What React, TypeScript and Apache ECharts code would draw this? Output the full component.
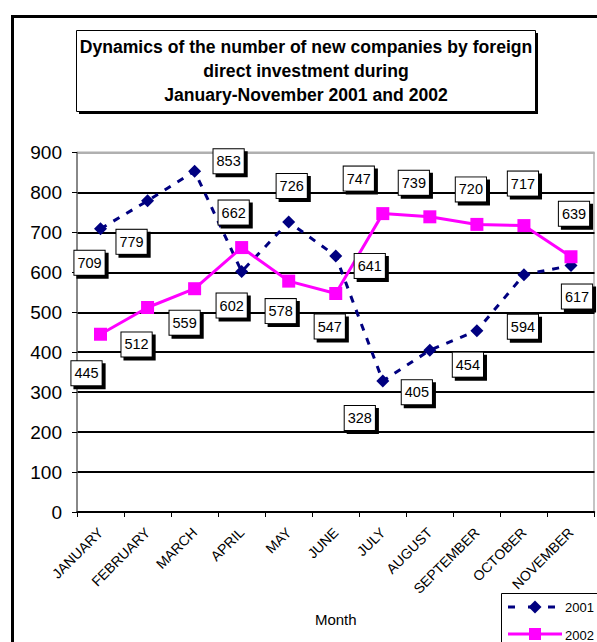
import React, { useEffect, useRef } from "react";
import * as echarts from "echarts";

const months = ["JANUARY", "FEBRUARY", "MARCH", "APRIL", "MAY", "JUNE", "JULY", "AUGUST", "SEPTEMBER", "OCTOBER", "NOVEMBER"];
const values2001 = [709, 779, 853, 602, 726, 641, 328, 405, 454, 594, 617];
const values2002 = [445, 512, 559, 662, 578, 547, 747, 739, 720, 717, 639];
const seriesNames = ["2001", "2002"];
const yTicks = { min: 0, max: 900, interval: 100 };
const titleLines = [
  "Dynamics of the number of new companies by foreign",
  "direct investment during",
  "January-November 2001 and 2002",
];
const labelOffsets2001 = [[-11, 34], [-16, 41], [34, -10], [-10, 34], [3, -36], [34, 10], [-23, 37], [-13, 42], [-9, 34], [-1, 52], [6, 31]];
const labelOffsets2002 = [[-14, 39], [-11, 37], [-10, 34], [-8, -35], [-8, 30], [-6, 33], [-24, -35], [-16, -34], [-6, -35], [-1, -42], [3, -43]];

const FONT = "Arial, 'Liberation Sans', sans-serif";
const NAVY = "#000080";
const MAGENTA = "#ff00ff";

const labelBox = {
  show: true,
  position: "inside",
  formatter: "{c}",
  fontSize: 14.5,
  fontFamily: FONT,
  color: "#000",
  backgroundColor: "#fff",
  borderColor: "#000",
  borderWidth: 1,
  padding: [5, 3, 4, 3],
  shadowColor: "#000",
  shadowOffsetX: 3,
  shadowOffsetY: 3,
  shadowBlur: 0,
};

export default function App() {
  const ref = useRef<HTMLDivElement>(null);
  useEffect(() => {
    const chart = echarts.init(ref.current!, null, { renderer: "svg" });
    const gridLeft = 77;
    const gridTop = 152.5;
    const gridRight = 2.5;
    const gridBottom = 130;
    const splitColors = Array.from({ length: 10 }, (_, i) => (i === 9 ? "#b0b0b0" : "#000"));
    const lgX = 508;
    const lgY1 = 607;
    const lgY2 = 634;
    chart.setOption({
      animation: false,
      backgroundColor: "#fff",
      textStyle: { fontFamily: FONT },
      grid: { left: gridLeft, top: gridTop, right: gridRight, bottom: gridBottom, containLabel: false },
      xAxis: {
        type: "category",
        data: months,
        boundaryGap: true,
        axisLine: { lineStyle: { color: "#000", width: 1.5 } },
        axisTick: { show: true, length: 5, lineStyle: { color: "#000", width: 1 } },
        axisLabel: {
          rotate: 45,
          interval: 0,
          fontSize: 14,
          color: "#000",
          margin: 18,
          fontFamily: FONT,
        },
        name: "Month",
        nameLocation: "middle",
        nameGap: 100,
        nameTextStyle: { fontSize: 15, color: "#000", fontFamily: FONT },
      },
      yAxis: {
        type: "value",
        min: yTicks.min,
        max: yTicks.max,
        interval: yTicks.interval,
        axisLine: { show: true, lineStyle: { color: "#606060", width: 1.5 } },
        axisTick: { show: true, length: 5, lineStyle: { color: "#000", width: 1 } },
        axisLabel: { fontSize: 19, color: "#000", margin: 15, fontFamily: FONT },
        splitLine: { show: true, lineStyle: { color: splitColors, width: 2 } },
      },
      legend: { show: false },
      graphic: [
        {
          type: "rect",
          shape: { x: 12.5, y: 16.5, width: 800, height: 800 },
          style: { fill: "none", stroke: "#000", lineWidth: 3 },
          silent: true,
          z: 100,
        },
        {
          type: "line",
          shape: { x1: gridLeft, y1: gridTop, x2: 597 - gridRight, y2: gridTop },
          style: { stroke: "#b0b0b0", lineWidth: 2 },
          silent: true,
        },
        {
          type: "line",
          shape: { x1: 597 - gridRight - 0.5, y1: gridTop, x2: 597 - gridRight - 0.5, y2: 642 - gridBottom },
          style: { stroke: "#b0b0b0", lineWidth: 1.5 },
          silent: true,
        },
        {
          type: "rect",
          shape: { x: 79, y: 33, width: 459, height: 81 },
          style: { fill: "#000" },
          silent: true,
        },
        {
          type: "rect",
          shape: { x: 76.5, y: 30.5, width: 459, height: 81 },
          style: { fill: "#fff", stroke: "#000", lineWidth: 1 },
          silent: true,
        },
        {
          type: "text",
          x: 306,
          y: 71,
          style: {
            text: titleLines.join("\n"),
            fontSize: 17.6,
            fontWeight: "bold",
            fontFamily: FONT,
            lineHeight: 24,
            fill: "#000",
            align: "center",
            verticalAlign: "middle",
          },
          silent: true,
        },
        {
          type: "group",
          z: 50,
          silent: true,
          children: [
            {
              type: "rect",
              shape: { x: 501.5, y: 593.5, width: 130, height: 70 },
              style: { fill: "#fff", stroke: "#000", lineWidth: 1 },
            },
            {
              type: "line",
              shape: { x1: lgX, y1: lgY1, x2: lgX + 54, y2: lgY1 },
              style: { stroke: NAVY, lineWidth: 3, lineDash: [7, 13] },
            },
            {
              type: "polygon",
              shape: { points: [[lgX + 27, lgY1 - 6.5], [lgX + 33.5, lgY1], [lgX + 27, lgY1 + 6.5], [lgX + 20.5, lgY1]] },
              style: { fill: NAVY },
            },
            {
              type: "text",
              x: lgX + 57,
              y: lgY1,
              style: { text: seriesNames[0], fontSize: 13, fontFamily: FONT, fill: "#000", verticalAlign: "middle" },
            },
            {
              type: "line",
              shape: { x1: lgX, y1: lgY2, x2: lgX + 54, y2: lgY2 },
              style: { stroke: MAGENTA, lineWidth: 3 },
            },
            {
              type: "rect",
              shape: { x: lgX + 21, y: lgY2 - 6, width: 12, height: 12 },
              style: { fill: MAGENTA },
            },
            {
              type: "text",
              x: lgX + 57,
              y: lgY2 + 1,
              style: { text: seriesNames[1], fontSize: 13, fontFamily: FONT, fill: "#000", verticalAlign: "middle" },
            },
          ],
        },
      ],
      series: [
        {
          name: seriesNames[0],
          type: "line",
          data: values2001.map((v, i) => ({ value: v, label: { offset: labelOffsets2001[i] } })),
          symbol: "diamond",
          symbolSize: 13,
          itemStyle: { color: NAVY },
          lineStyle: { color: NAVY, width: 3, type: [7, 8] },
          label: labelBox,
          z: 3,
        },
        {
          name: seriesNames[1],
          type: "line",
          data: values2002.map((v, i) => ({ value: v, label: { offset: labelOffsets2002[i] } })),
          symbol: "rect",
          symbolSize: 13,
          itemStyle: { color: MAGENTA },
          lineStyle: { color: MAGENTA, width: 3 },
          label: labelBox,
          z: 3,
        },
      ],
    });
    return () => chart.dispose();
  }, []);
  return <div ref={ref} style={{ position: "fixed", left: 0, top: 0, width: 597, height: 642 }} />;
}
